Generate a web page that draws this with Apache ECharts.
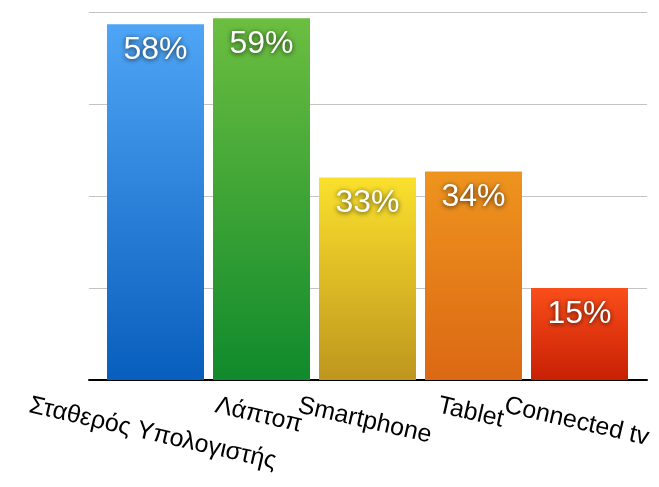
<!DOCTYPE html>
<html lang="el" style="height: 100%">
<head>
  <meta charset="utf-8">
</head>
<body style="height: 100%; margin: 0; background: #fff">
  <div id="container" style="width: 659px; height: 487px"></div>

  <script type="text/javascript" src="https://fastly.jsdelivr.net/npm/echarts@6/dist/echarts.min.js"></script>
  <script type="text/javascript">
    // data
    var categories = ['Σταθερός Υπολογιστής', 'Λάπτοπ', 'Smartphone', 'Tablet', 'Connected tv'];
    var values = [58, 59, 33, 34, 15];

    // gradient per bar: top colour, bottom colour
    var topColors = ['#4fa5f5', '#6cbe40', '#fae02c', '#ee941e', '#fa4e1a'];
    var bottomColors = ['#085ebc', '#108a2c', '#be961e', '#dc6814', '#c82004'];

    var FONT = '"Liberation Sans", Arial, Helvetica, sans-serif';
    var LABEL_SIZE = 25;
    var ANGLE = 13;

    var dom = document.getElementById('container');
    var myChart = echarts.init(dom, null, { renderer: 'canvas' });

    // labels in the original are centred under the bar and rotated, with the
    // top of the rotated box on one line; push each one down by its own slant
    var ctx = document.createElement('canvas').getContext('2d');
    ctx.font = LABEL_SIZE + 'px ' + FONT;
    var rad = ANGLE * Math.PI / 180;
    var axisData = categories.map(function (name) {
      var w = ctx.measureText(name).width;
      var s = w / 2 * Math.sin(rad);
      var down = s * Math.cos(rad);
      var side = s * Math.sin(rad);
      return {
        value: name,
        textStyle: {
          align: 'center',
          verticalAlign: 'top',
          padding: [down, 0, 0, 2 * side]
        }
      };
    });

    var barData = values.map(function (v, i) {
      return {
        value: v,
        itemStyle: {
          color: new echarts.graphic.LinearGradient(0, 0, 0, 1, [
            { offset: 0, color: topColors[i] },
            { offset: 1, color: bottomColors[i] }
          ])
        }
      };
    });

    var option = {
      animation: false,
      grid: [
        { left: 89, right: 12, top: 12, bottom: 107, outerBoundsMode: 'none' },
        { left: 102.5, right: 26.5, top: 12, bottom: 107, outerBoundsMode: 'none' }
      ],
      xAxis: [{
        gridIndex: 0,
        type: 'value',
        min: 0,
        max: 1,
        axisLine: { show: true, lineStyle: { color: '#000', width: 2 } },
        axisTick: { show: false },
        axisLabel: { show: false },
        splitLine: { show: false }
      }, {
        gridIndex: 1,
        type: 'category',
        data: axisData,
        axisLine: { show: false },
        axisTick: { show: false },
        axisLabel: {
          interval: 0,
          rotate: -ANGLE,
          align: 'center',
          verticalAlign: 'top',
          margin: 13,
          color: '#000',
          fontFamily: FONT,
          fontSize: LABEL_SIZE,
          hideOverlap: false
        }
      }],
      yAxis: [{
        gridIndex: 0,
        type: 'value',
        min: 0,
        max: 60,
        interval: 15,
        axisLine: { show: false },
        axisTick: { show: false },
        axisLabel: { show: false },
        splitLine: { lineStyle: { color: '#c4c4c4', width: 1 } }
      }, {
        gridIndex: 1,
        type: 'value',
        min: 0,
        max: 60,
        interval: 15,
        show: false
      }],
      series: [{
        type: 'bar',
        xAxisIndex: 1,
        yAxisIndex: 1,
        barWidth: 97,
        data: barData,
        label: {
          show: true,
          position: 'insideTop',
          distance: 10,
          formatter: '{c}%',
          color: '#fff',
          fontFamily: FONT,
          fontSize: 32,
          textShadowColor: 'rgba(0, 0, 0, 0.75)',
          textShadowBlur: 5,
          textShadowOffsetY: 1
        }
      }]
    };

    myChart.setOption(option);
    window.addEventListener('resize', myChart.resize);
  </script>
</body>
</html>
